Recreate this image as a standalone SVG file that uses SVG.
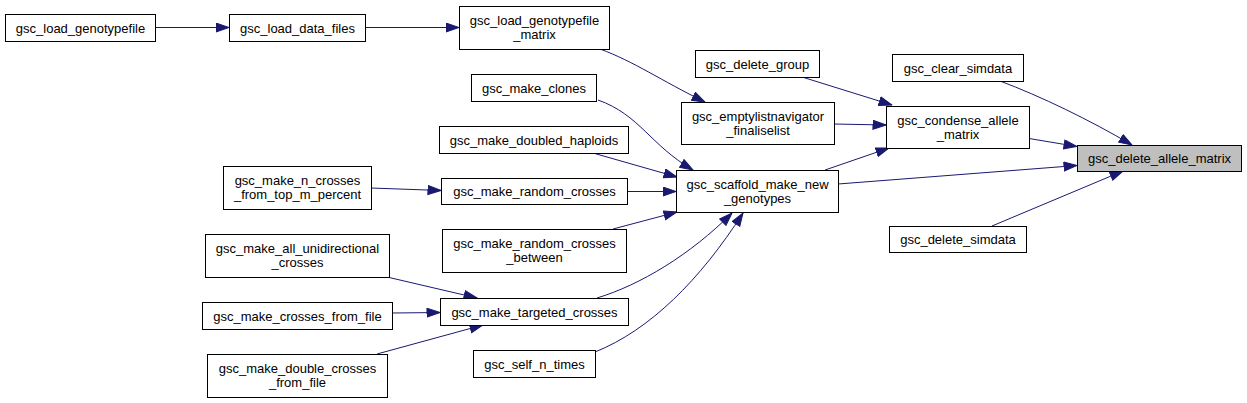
<svg xmlns="http://www.w3.org/2000/svg" width="1247" height="403" viewBox="0 0 1247 403">
<style>
.n rect{fill:#ffffff;stroke:#000000;stroke-width:1}
.n.hl rect{fill:#bfbfbf}
.n text{font-family:"Liberation Sans",Arial,sans-serif;font-size:13px;fill:#000000;text-anchor:middle}
#edges path{fill:none;stroke:#191970;stroke-width:1;marker-end:url(#ah)}
</style>
<defs>
<marker id="ah" markerWidth="14" markerHeight="11" refX="13.5" refY="5" orient="auto" markerUnits="userSpaceOnUse">
<path d="M0.5,0.5 L13.5,5 L0.5,9.5 z" fill="#191970" stroke="#191970" stroke-width="1"/>
</marker>
</defs>
<rect width="1247" height="403" fill="#ffffff"/>
<g id="edges">
<path d="M155,27.5 L229,27.5"/>
<path d="M365,27.5 L459,27.5"/>
<path d="M600,49 C635,62 660,80 705,102"/>
<path d="M598,100 C640,115 650,145 693,170"/>
<path d="M593,153 L677,177"/>
<path d="M627,191.5 L676,191.5"/>
<path d="M613,229 L677,212"/>
<path d="M597,298 C640,285 690,255 732,213"/>
<path d="M595,352 C650,330 700,280 743,213"/>
<path d="M371,188 L441,190.5"/>
<path d="M387,277 L477,298"/>
<path d="M392,313 L440,312.5"/>
<path d="M377,354 L483,325"/>
<path d="M802,77 L892,105"/>
<path d="M834,124 L886,125"/>
<path d="M825,170 L889,148"/>
<path d="M838,184 L1077,165.5"/>
<path d="M1029,138.5 L1077,146.5"/>
<path d="M1000,81 C1040,96 1090,120 1132,145"/>
<path d="M992,226 L1123,171"/>
</g>
<g id="n1" class="n"><rect x="5.5" y="14.5" width="150" height="27"/><text x="80.5" y="32.5">gsc_load_genotypefile</text></g>
<g id="n2" class="n"><rect x="229.5" y="14.5" width="136" height="27"/><text x="297.5" y="32.5">gsc_load_data_files</text></g>
<g id="n3" class="n"><rect x="459.5" y="6.5" width="150" height="43"/><text x="534.5" y="25">gsc_load_genotypefile</text><text x="534.5" y="39">_matrix</text></g>
<g id="n4" class="n"><rect x="695.5" y="50.5" width="124" height="27"/><text x="757.5" y="68.5">gsc_delete_group</text></g>
<g id="n5" class="n"><rect x="471.5" y="74.5" width="125" height="27"/><text x="534" y="92.5">gsc_make_clones</text></g>
<g id="n6" class="n"><rect x="681.5" y="102.5" width="153" height="42"/><text x="758" y="120.5">gsc_emptylistnavigator</text><text x="758" y="134.5">_finaliselist</text></g>
<g id="n7" class="n"><rect x="892.5" y="54.5" width="131" height="27"/><text x="958" y="72.5">gsc_clear_simdata</text></g>
<g id="n8" class="n"><rect x="886.5" y="106.5" width="143" height="42"/><text x="958" y="124.5">gsc_condense_allele</text><text x="958" y="138.5">_matrix</text></g>
<g id="n9" class="n hl"><rect x="1077.5" y="145.5" width="164" height="26"/><text x="1159.5" y="163">gsc_delete_allele_matrix</text></g>
<g id="n10" class="n"><rect x="889.5" y="226.5" width="137" height="26"/><text x="958" y="244">gsc_delete_simdata</text></g>
<g id="n11" class="n"><rect x="676.5" y="170.5" width="162" height="42"/><text x="757.5" y="188.5">gsc_scaffold_make_new</text><text x="757.5" y="202.5">_genotypes</text></g>
<g id="n12" class="n"><rect x="439.5" y="126.5" width="189" height="27"/><text x="534" y="144.5">gsc_make_doubled_haploids</text></g>
<g id="n13" class="n"><rect x="223.5" y="166.5" width="148" height="43"/><text x="297.5" y="185">gsc_make_n_crosses</text><text x="297.5" y="199">_from_top_m_percent</text></g>
<g id="n14" class="n"><rect x="441.5" y="178.5" width="186" height="26"/><text x="534.5" y="196">gsc_make_random_crosses</text></g>
<g id="n15" class="n"><rect x="442.5" y="229.5" width="184" height="43"/><text x="534.5" y="248">gsc_make_random_crosses</text><text x="534.5" y="262">_between</text></g>
<g id="n16" class="n"><rect x="205.5" y="234.5" width="184" height="43"/><text x="297.5" y="253">gsc_make_all_unidirectional</text><text x="297.5" y="267">_crosses</text></g>
<g id="n17" class="n"><rect x="202.5" y="302.5" width="190" height="27"/><text x="297.5" y="320.5">gsc_make_crosses_from_file</text></g>
<g id="n18" class="n"><rect x="440.5" y="298.5" width="188" height="27"/><text x="534.5" y="316.5">gsc_make_targeted_crosses</text></g>
<g id="n19" class="n"><rect x="207.5" y="354.5" width="180" height="43"/><text x="297.5" y="373">gsc_make_double_crosses</text><text x="297.5" y="387">_from_file</text></g>
<g id="n20" class="n"><rect x="473.5" y="350.5" width="122" height="27"/><text x="534.5" y="368.5">gsc_self_n_times</text></g>
</svg>
